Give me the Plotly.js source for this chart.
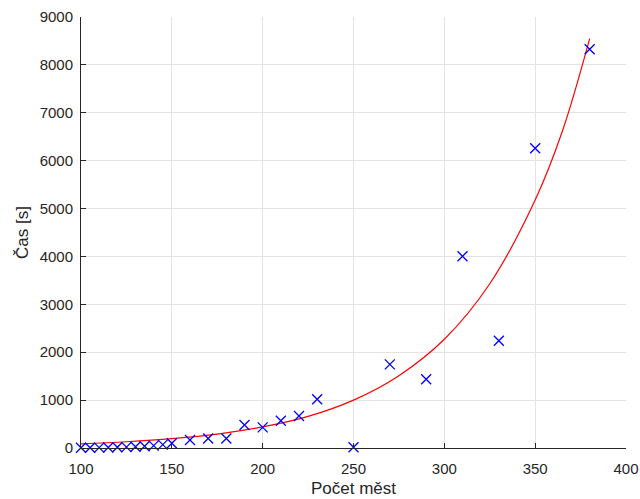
<!DOCTYPE html>
<html>
<head>
<meta charset="utf-8">
<script src="https://cdn.plot.ly/plotly-3.0.1.min.js"></script>
<style>html,body{margin:0;padding:0;background:#fff;}#chart{width:640px;height:499px;}</style>
</head>
<body>
<div id="chart"></div>
<script>
// Measured data
const cityCounts = [100, 105, 110, 115, 120, 125, 130, 135, 140, 145, 150, 160, 170, 180, 190, 200, 210, 220, 230, 250, 270, 290, 310, 330, 350, 380];
const timesSec   = [5, 6, 8, 10, 14, 18, 25, 35, 50, 70, 100, 167, 200, 200, 480, 430, 570, 668, 1017, 15, 1747, 1434, 4003, 2240, 6258, 8325];
// Fitted curve
const fitX = [100, 125, 150, 175, 200, 225, 250, 275, 300, 325, 350, 365, 380];
const fitY = [85, 130, 195, 290, 440, 660, 1000, 1510, 2270, 3430, 5180, 6620, 8550];
const xTicks = [100, 150, 200, 250, 300, 350, 400];
const yTicks = [0, 1000, 2000, 3000, 4000, 5000, 6000, 7000, 8000, 9000];

const font = "Liberation Sans, Arial, sans-serif";
const data = [
  {x: fitX, y: fitY, type: 'scatter', mode: 'lines', line: {color: '#ff0000', width: 1.2, shape: 'spline', smoothing: 1}, hoverinfo: 'skip'},
  {x: cityCounts, y: timesSec, type: 'scatter', mode: 'markers', cliponaxis: false,
   marker: {symbol: 'x-thin-open', size: 10, color: '#0000ff', line: {color: '#0000ff', width: 1.3}}}
];
const axisCommon = {
  showline: true, linecolor: '#262626', linewidth: 1, mirror: false,
  ticks: 'inside', ticklen: 5, tickcolor: '#262626', tickwidth: 1,
  showgrid: true, gridcolor: '#e3e3e3', gridwidth: 1, zeroline: false,
  tickfont: {family: font, size: 15, color: '#262626'}
};
const layout = {
  width: 640, height: 499,
  margin: {l: 81, r: 14, t: 17, b: 51},
  paper_bgcolor: '#ffffff', plot_bgcolor: '#ffffff',
  showlegend: false,
  xaxis: Object.assign({}, axisCommon, {
    range: [100, 400], tickvals: xTicks, ticktext: xTicks.map(String),
    ticklabelstandoff: 7,
    title: {text: 'Počet měst', font: {family: font, size: 17, color: '#262626'}, standoff: 6}
  }),
  yaxis: Object.assign({}, axisCommon, {
    range: [0, 9000], tickvals: yTicks, ticktext: yTicks.map(String),
    ticklabelstandoff: 4,
    title: {text: 'Čas [s]', font: {family: font, size: 17, color: '#262626'}, standoff: 6}
  })
};
Plotly.newPlot('chart', data, layout, {displayModeBar: false, staticPlot: true});
</script>
</body>
</html>
